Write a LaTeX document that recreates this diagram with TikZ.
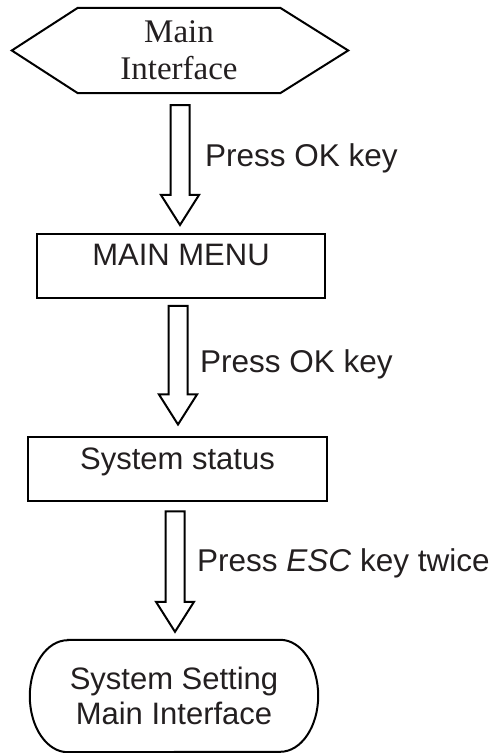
\documentclass[tikz,border=0pt]{standalone}
\usepackage{fontspec}
\setmainfont{Liberation Serif}
\newfontfamily\arialfont{Liberation Sans}
\usetikzlibrary{calc}
\definecolor{txtgray}{RGB}{35,31,32}

\tikzset{
  outline/.style={draw, line width=2pt, line join=miter},
  flowbox/.style={outline, inner xsep=0pt, inner ysep=10pt, text height=22pt, text depth=22pt,
    font=\arialfont\fontsize{31pt}{35pt}\selectfont, text=txtgray},
  steplabel/.style={anchor=base west, inner sep=0pt, font=\arialfont\fontsize{31.5pt}{35pt}\selectfont, text=txtgray},
  blockarrow/.style={outline, fill=white}
}
% block arrow from top point #1 down to tip #2
\newcommand{\bigarrow}[2]{%
  \draw[blockarrow] ($(#1)+(-9.5,0)$) -- ($(#1)+(9.5,0)$) -- ($(#2)+(9.5,30)$) -- ($(#2)+(19,30)$)
    -- (#2) -- ($(#2)+(-19,30)$) -- ($(#2)+(-9.5,30)$) -- cycle;}

\begin{document}
\begin{tikzpicture}[x=1pt,y=1pt]
\useasboundingbox (0,0) rectangle (496,753);

% start screen
\node[minimum width=202pt, minimum height=85pt, inner sep=0pt, align=center, text=txtgray,
  font=\fontsize{33pt}{37pt}\selectfont] (hex) at (179,702.5) {Main\\Interface};
\draw[outline] (hex.north west) -- (hex.north east) -- ($(hex.east)+(68,0)$) -- (hex.south east)
  -- (hex.south west) -- ($(hex.west)+(-66,0)$) -- cycle;

% menu boxes
\node[flowbox, minimum width=288pt] (menu) at (181,487) {MAIN MENU};
\node[flowbox, minimum width=299pt] (status) at (177.5,283.5) {System status};

% end screen
\node[minimum width=212pt, minimum height=112pt, inner sep=0pt, align=center, text=txtgray,
  font=\arialfont\fontsize{31pt}{35pt}\selectfont] (setting) at (174,57) {System Setting\\Main Interface};
\draw[outline] (setting.north west) -- (setting.north east)
  arc[start angle=90, end angle=-90, x radius=38, y radius=56] -- (setting.south west)
  arc[start angle=270, end angle=90, x radius=38, y radius=56] -- cycle;

% arrows
\coordinate (a1s) at ($(hex.south)+(1,-12)$);
\coordinate (a1e) at ($(a1s |- menu.north)+(0,8)$);
\coordinate (a2s) at ($(menu.south)+(-3,-7)$);
\coordinate (a2e) at ($(a2s |- status.north)+(0,12)$);
\coordinate (a3s) at ($(status.south)+(-2.5,-9)$);
\coordinate (a3e) at ($(a3s |- setting.north)+(0,8)$);
\bigarrow{a1s}{a1e}
\bigarrow{a2s}{a2e}
\bigarrow{a3s}{a3e}

\node[steplabel] (lab1) at ($(a1s)!0.5!(a1e)+(25,-1)$) {Press OK key};
\node[steplabel] (lab2) at ($(a2s)!0.5!(a2e)+(22,-7)$) {Press OK key};
\node[steplabel] (lab3) at ($(a3s)!0.5!(a3e)+(22,0)$) {Press \textit{ESC} key twice};
\end{tikzpicture}
\end{document}
